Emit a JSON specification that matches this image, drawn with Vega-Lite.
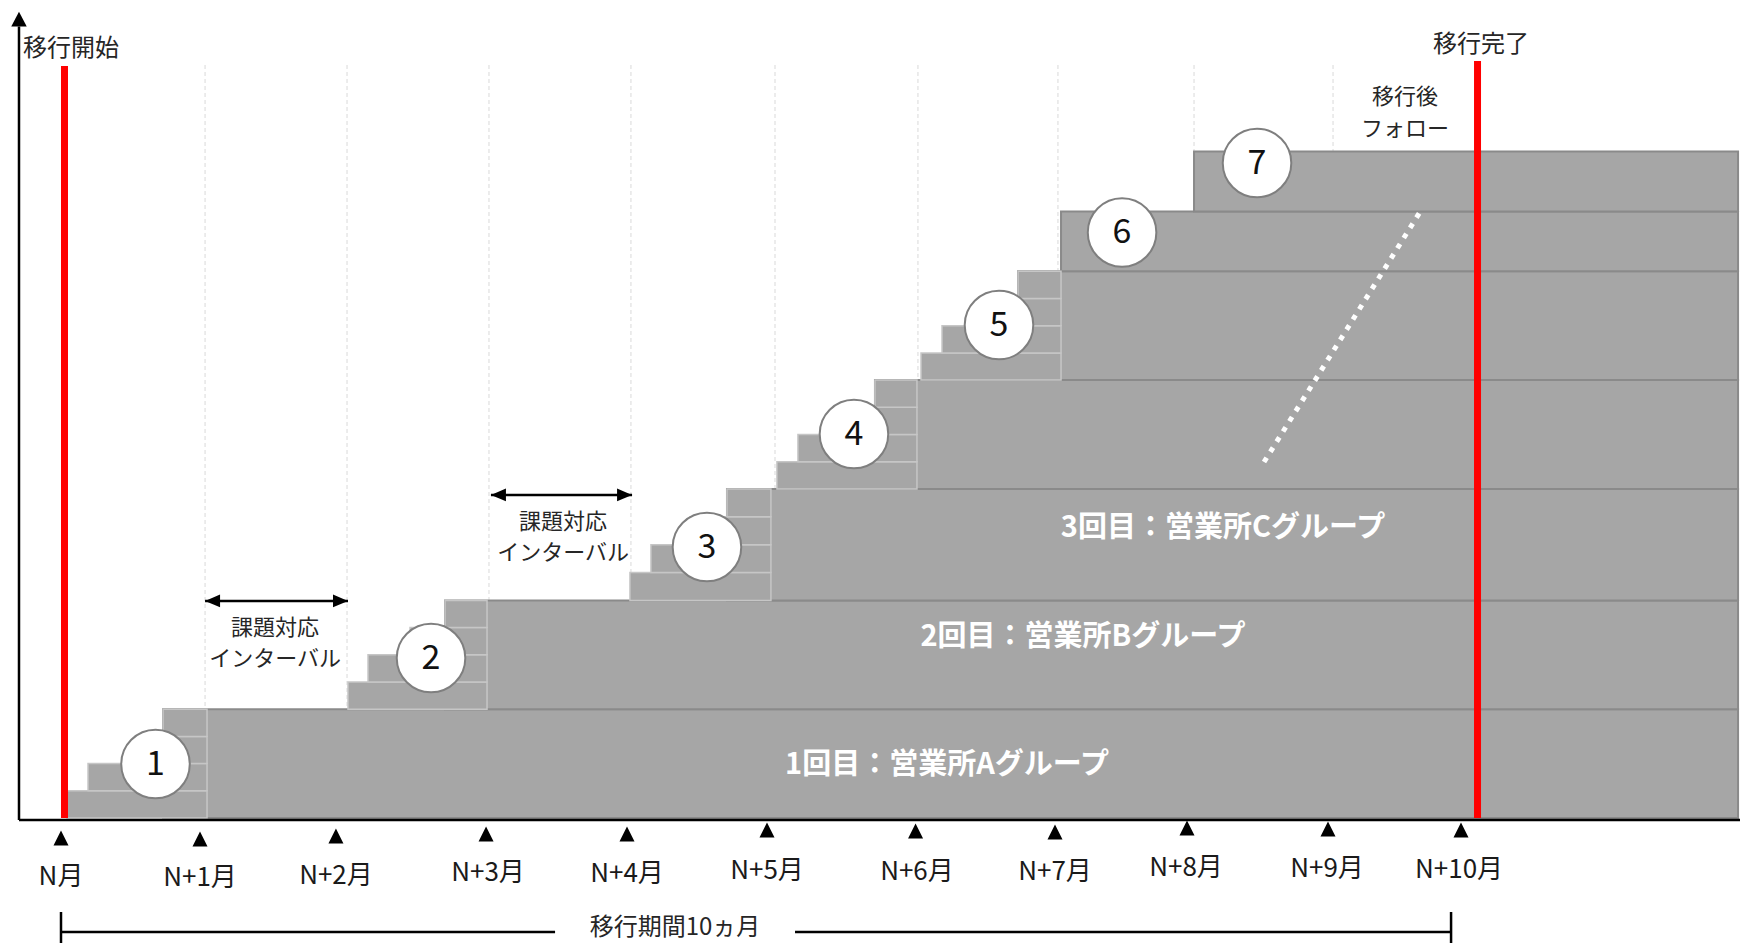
{
  "$schema": "https://vega.github.io/schema/vega-lite/v6.json",
  "width": 1740,
  "height": 943,
  "padding": 0,
  "autosize": {"type": "none"},
  "background": "white",
  "config": {"view": {"stroke": null}, "font": "Noto Sans CJK JP"},
  "datasets": {
    "grid": [
      {"month": 1.029, "level": 0, "level2": 27.757},
      {"month": 2.043, "level": 0, "level2": 27.757},
      {"month": 3.057, "level": 0, "level2": 27.757},
      {"month": 4.071, "level": 0, "level2": 27.757},
      {"month": 5.1, "level": 0, "level2": 27.757},
      {"month": 6.121, "level": 0, "level2": 27.757},
      {"month": 7.121, "level": 0, "level2": 27.757},
      {"month": 8.093, "level": 0, "level2": 27.757},
      {"month": 9.086, "level": 0, "level2": 27.757}
    ],
    "blocks": [
      {"stage": 1, "month": 0.729, "month2": 11.979, "level": 0, "level2": 4},
      {"stage": 2, "month": 2.743, "month2": 11.979, "level": 4, "level2": 8},
      {"stage": 3, "month": 4.757, "month2": 11.979, "level": 8, "level2": 12.1},
      {"stage": 4, "month": 5.814, "month2": 11.979, "level": 12.1, "level2": 16.1},
      {"stage": 5, "month": 6.836, "month2": 11.979, "level": 16.1, "level2": 20.1},
      {"stage": 6, "month": 7.143, "month2": 11.979, "level": 20.1, "level2": 22.3},
      {"stage": 7, "month": 8.093, "month2": 11.979, "level": 22.3, "level2": 24.5}
    ],
    "steps": [
      {"stage": 1, "row": 1, "month": 0.043, "month2": 1.043, "level": 0, "level2": 1},
      {"stage": 1, "row": 2, "month": 0.193, "month2": 1.043, "level": 1, "level2": 2},
      {"stage": 1, "row": 3, "month": 0.529, "month2": 1.043, "level": 2, "level2": 3},
      {"stage": 1, "row": 4, "month": 0.729, "month2": 1.043, "level": 3, "level2": 4},
      {"stage": 2, "row": 1, "month": 2.05, "month2": 3.043, "level": 4, "level2": 5},
      {"stage": 2, "row": 2, "month": 2.193, "month2": 3.043, "level": 5, "level2": 6},
      {"stage": 2, "row": 3, "month": 2.493, "month2": 3.043, "level": 6, "level2": 7},
      {"stage": 2, "row": 4, "month": 2.743, "month2": 3.043, "level": 7, "level2": 8},
      {"stage": 3, "row": 1, "month": 4.064, "month2": 5.071, "level": 8, "level2": 9.025},
      {"stage": 3, "row": 2, "month": 4.214, "month2": 5.071, "level": 9.025, "level2": 10.05},
      {"stage": 3, "row": 3, "month": 4.493, "month2": 5.071, "level": 10.05, "level2": 11.075},
      {"stage": 3, "row": 4, "month": 4.757, "month2": 5.071, "level": 11.075, "level2": 12.1},
      {"stage": 4, "row": 1, "month": 5.114, "month2": 6.114, "level": 12.1, "level2": 13.1},
      {"stage": 4, "row": 2, "month": 5.264, "month2": 6.114, "level": 13.1, "level2": 14.1},
      {"stage": 4, "row": 3, "month": 5.564, "month2": 6.114, "level": 14.1, "level2": 15.1},
      {"stage": 4, "row": 4, "month": 5.814, "month2": 6.114, "level": 15.1, "level2": 16.1},
      {"stage": 5, "row": 1, "month": 6.143, "month2": 7.143, "level": 16.1, "level2": 17.1},
      {"stage": 5, "row": 2, "month": 6.293, "month2": 7.143, "level": 17.1, "level2": 18.1},
      {"stage": 5, "row": 3, "month": 6.564, "month2": 7.143, "level": 18.1, "level2": 19.1},
      {"stage": 5, "row": 4, "month": 6.836, "month2": 7.143, "level": 19.1, "level2": 20.1}
    ],
    "circles": [
      {"n": "1", "month": 0.675, "level": 1.985},
      {"n": "2", "month": 2.643, "level": 5.882},
      {"n": "3", "month": 4.614, "level": 9.963},
      {"n": "4", "month": 5.664, "level": 14.118},
      {"n": "5", "month": 6.7, "level": 18.125},
      {"n": "6", "month": 7.579, "level": 21.526},
      {"n": "7", "month": 8.543, "level": 24.081}
    ],
    "milestones": [
      {"name": "移行開始", "month": 0.025, "level": 0, "level2": 27.647},
      {"name": "移行完了", "month": 10.118, "level": 0, "level2": 27.831}
    ],
    "vlines": [
      {"part": "y軸", "month": -0.3, "level": -0.074, "level2": 29.1},
      {"part": "期間左端", "month": 0, "level": -3.456, "level2": -4.62},
      {"part": "期間右端", "month": 9.929, "level": -3.456, "level2": -4.62}
    ],
    "hlines": [
      {"part": "x軸", "month": -0.3, "month2": 11.993, "level": -0.074},
      {"part": "期間左", "month": 0, "month2": 3.529, "level": -4.191},
      {"part": "期間右", "month": 5.243, "month2": 9.929, "level": -4.191}
    ],
    "intervals": [
      {"n": 1, "month": 1.029, "month2": 2.05, "level": 7.978},
      {"n": 2, "month": 3.071, "month2": 4.079, "level": 11.875}
    ],
    "diag": [
      {"month": 8.593, "month2": 9.707, "level": 13.088, "level2": 22.279}
    ],
    "ticks": [
      {"label": "N月", "month": 0, "level": -0.735, "lm": 0, "ll": -2.169},
      {"label": "N+1月", "month": 0.993, "level": -0.772, "lm": 0.993, "ll": -2.206},
      {"label": "N+2月", "month": 1.964, "level": -0.662, "lm": 1.964, "ll": -2.132},
      {"label": "N+3月", "month": 3.036, "level": -0.588, "lm": 3.05, "ll": -2.022},
      {"label": "N+4月", "month": 4.043, "level": -0.588, "lm": 4.043, "ll": -2.059},
      {"label": "N+5月", "month": 5.043, "level": -0.441, "lm": 5.043, "ll": -1.949},
      {"label": "N+6月", "month": 6.104, "level": -0.478, "lm": 6.114, "ll": -1.985},
      {"label": "N+7月", "month": 7.1, "level": -0.515, "lm": 7.1, "ll": -1.985},
      {"label": "N+8月", "month": 8.043, "level": -0.368, "lm": 8.036, "ll": -1.838},
      {"label": "N+9月", "month": 9.05, "level": -0.404, "lm": 9.043, "ll": -1.875},
      {"label": "N+10月", "month": 10.0, "level": -0.441, "lm": 9.986, "ll": -1.912}
    ],
    "notes": [
      {"kind": "interval", "text": "課題対応", "month": 1.529, "level": 6.98},
      {"kind": "interval", "text": "インターバル", "month": 1.529, "level": 5.85},
      {"kind": "interval", "text": "課題対応", "month": 3.586, "level": 10.88},
      {"kind": "interval", "text": "インターバル", "month": 3.586, "level": 9.75},
      {"kind": "interval", "text": "移行後", "month": 9.6, "level": 26.5},
      {"kind": "interval", "text": "フォロー", "month": 9.6, "level": 25.34},
      {"kind": "milestone", "text": "移行開始", "month": 0.071, "level": 28.272},
      {"kind": "milestone", "text": "移行完了", "month": 10.143, "level": 28.419},
      {"kind": "period", "text": "移行期間10ヵ月", "month": 4.386, "level": -4.06}
    ],
    "stages": [
      {"text": "1回目：営業所Aグループ", "month": 6.329, "level": 1.949},
      {"text": "2回目：営業所Bグループ", "month": 7.3, "level": 6.654},
      {"text": "3回目：営業所Cグループ", "month": 8.3, "level": 10.68}
    ]
  },
  "encoding": {
    "x": {"field": "month", "type": "quantitative", "scale": {"domain": [-0.435714, 11.992857], "nice": false, "zero": false}, "axis": null},
    "y": {"field": "level", "type": "quantitative", "scale": {"domain": [-4.5956, 30.0735], "nice": false, "zero": false}, "axis": null}
  },
  "layer": [
    {
      "data": {"name": "grid"},
      "mark": {"type": "rule", "color": "#d9d9d9", "strokeWidth": 1, "strokeDash": [4, 3]},
      "encoding": {"y2": {"field": "level2"}}
    },
    {
      "data": {"name": "blocks"},
      "mark": {"type": "rect", "fill": "#a6a6a6", "stroke": "#8a8a8a", "strokeWidth": 2},
      "encoding": {"x2": {"field": "month2"}, "y2": {"field": "level2"}}
    },
    {
      "data": {"name": "steps"},
      "mark": {"type": "rect", "fill": "#a6a6a6", "stroke": "#c6c6c6", "strokeWidth": 1.5},
      "encoding": {"x2": {"field": "month2"}, "y2": {"field": "level2"}}
    },
    {
      "data": {"name": "diag"},
      "mark": {"type": "rule", "color": "white", "strokeWidth": 5, "strokeDash": [5, 7]},
      "encoding": {"x2": {"field": "month2"}, "y2": {"field": "level2"}}
    },
    {
      "data": {"name": "milestones"},
      "mark": {"type": "rule", "color": "#ff0000", "strokeWidth": 7},
      "encoding": {"y2": {"field": "level2"}}
    },
    {
      "data": {"name": "vlines"},
      "mark": {"type": "rule", "color": "black", "strokeWidth": 2.5},
      "encoding": {"y2": {"field": "level2"}}
    },
    {
      "data": {"name": "hlines"},
      "mark": {"type": "rule", "color": "black", "strokeWidth": 2.5},
      "encoding": {"x2": {"field": "month2"}}
    },
    {
      "data": {"name": "vlines"},
      "transform": [{"filter": "datum.part === 'y軸'"}],
      "mark": {"type": "point", "shape": "M0,-1.9L-1,0L1,0Z", "filled": true, "color": "black", "size": 240, "opacity": 1},
      "encoding": {"y": {"field": "level2"}}
    },
    {
      "data": {"name": "intervals"},
      "mark": {"type": "rule", "color": "black", "strokeWidth": 2.5},
      "encoding": {"x2": {"field": "month2"}}
    },
    {
      "data": {"name": "intervals"},
      "mark": {"type": "point", "shape": "M0,0L2,-0.85L2,0.85Z", "filled": true, "color": "black", "size": 225, "opacity": 1},
      "encoding": {}
    },
    {
      "data": {"name": "intervals"},
      "mark": {"type": "point", "shape": "M0,0L-2,-0.85L-2,0.85Z", "filled": true, "color": "black", "size": 225, "opacity": 1},
      "encoding": {"x": {"field": "month2"}}
    },
    {
      "data": {"name": "ticks"},
      "mark": {"type": "point", "shape": "M0,-1L1,1L-1,1Z", "filled": true, "color": "black", "size": 225, "opacity": 1},
      "encoding": {}
    },
    {
      "data": {"name": "ticks"},
      "mark": {"type": "text", "fontSize": 26, "color": "#1a1a1a", "align": "center", "baseline": "middle"},
      "encoding": {"x": {"field": "lm"}, "y": {"field": "ll"}, "text": {"field": "label"}}
    },
    {
      "data": {"name": "circles"},
      "mark": {"type": "point", "shape": "circle", "filled": true, "fill": "white", "stroke": "#7f7f7f", "strokeWidth": 2, "size": 4700, "opacity": 1},
      "encoding": {}
    },
    {
      "data": {"name": "circles"},
      "mark": {"type": "text", "fontSize": 34, "color": "#111111", "align": "center", "baseline": "middle", "dy": 1},
      "encoding": {"text": {"field": "n"}}
    },
    {
      "data": {"name": "notes"},
      "transform": [{"filter": "datum.kind === 'interval'"}],
      "mark": {"type": "text", "fontSize": 22, "color": "#262626", "align": "center", "baseline": "middle"},
      "encoding": {"text": {"field": "text"}}
    },
    {
      "data": {"name": "notes"},
      "transform": [{"filter": "datum.kind !== 'interval'"}],
      "mark": {"type": "text", "fontSize": 24, "color": "#262626", "align": "center", "baseline": "middle"},
      "encoding": {"text": {"field": "text"}}
    },
    {
      "data": {"name": "stages"},
      "mark": {"type": "text", "fontSize": 29, "fontWeight": "bold", "color": "white", "align": "center", "baseline": "middle"},
      "encoding": {"text": {"field": "text"}}
    }
  ]
}
